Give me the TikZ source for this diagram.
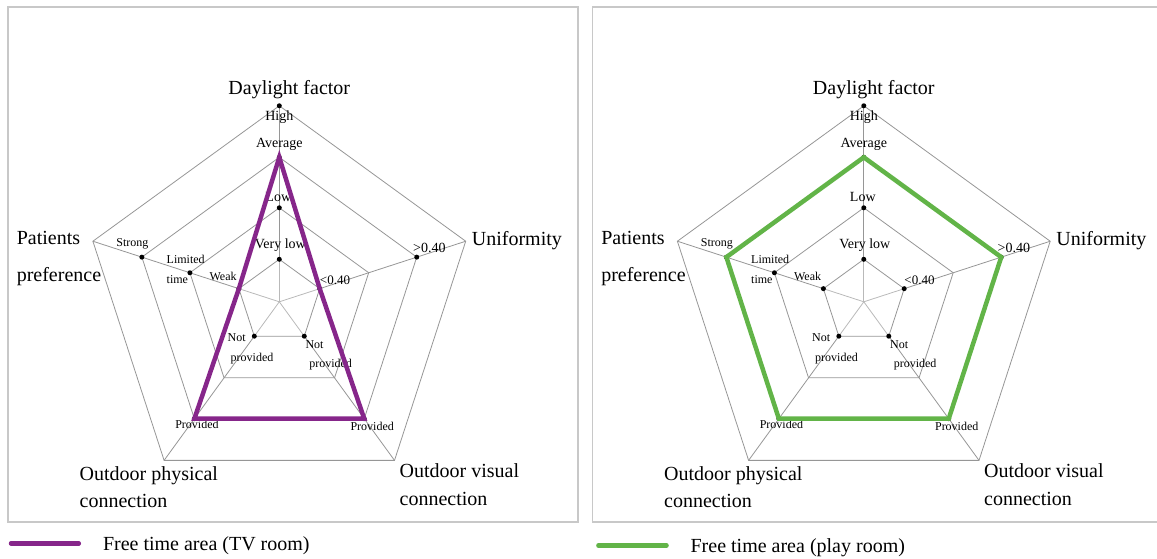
\documentclass[tikz,border=0pt]{standalone}
\usepackage{fontspec}
\setmainfont{Liberation Serif}

\definecolor{tvpurple}{RGB}{134,38,138}
\definecolor{playgreen}{RGB}{98,180,72}
\definecolor{gridgray}{RGB}{150,150,150}
\definecolor{spokegray}{RGB}{185,185,185}
\definecolor{framegray}{RGB}{200,200,200}

\tikzset{
  grid line/.style={draw=gridgray, line width=0.8pt},
  inner spoke/.style={draw=spokegray, line width=0.8pt},
  panel frame/.style={draw=framegray, line width=1.3pt},
  level dot/.style={circle, fill=black, inner sep=0pt, minimum size=5pt},
  axis title/.style={font=\fontsize{20}{24}\selectfont, inner sep=0pt},
  top level/.style={font=\fontsize{14}{16}\selectfont, inner sep=0pt},
  small level/.style={font=\fontsize{12}{14}\selectfont, inner sep=0pt},
  series/.style={line width=4.5pt, line join=miter},
  legend line/.style={line width=4.5pt, line cap=round},
}

% One radar grid: #1 = name prefix, #2 = x of the centre
\newcommand\radarpanel[2]{%
  \begin{scope}[shift={(#2,256.2)}]
    \coordinate (#1c) at (0,0);
    \foreach \a/\ang in {1/90,2/18,3/-54,4/-126,5/162}{
      \foreach \k/\r in {1/42.5,2/94,3/144.5,4/196}{
        \coordinate (#1-\a-\k) at (\ang:\r);
      }
    }
    % level pentagons
    \foreach \k in {1,...,4}{
      \draw[grid line] (#1-1-\k) -- (#1-2-\k) -- (#1-3-\k) -- (#1-4-\k) -- (#1-5-\k) -- cycle;
    }
    % spokes
    \foreach \a in {1,...,5}{
      \draw[inner spoke] (#1c) -- (#1-\a-1);
      \draw[grid line] (#1-\a-1) -- (#1-\a-4);
    }
    % level markers
    \node[level dot] (#1-dayVL) at (#1-1-1) {};
    \node[level dot] (#1-dayL)  at (#1-1-2) {};
    \node[level dot] (#1-dayA)  at (#1-1-3) {};
    \node[level dot] (#1-dayH)  at (#1-1-4) {};
    \node[level dot] (#1-uniLo) at (#1-2-1) {};
    \node[level dot] (#1-uniHi) at (#1-2-3) {};
    \node[level dot] (#1-visN)  at (#1-3-1) {};
    \node[level dot] (#1-visP)  at (#1-3-3) {};
    \node[level dot] (#1-phyN)  at (#1-4-1) {};
    \node[level dot] (#1-phyP)  at (#1-4-3) {};
    \node[level dot] (#1-patW)  at (#1-5-1) {};
    \node[level dot] (#1-patL)  at (#1-5-2) {};
    \node[level dot] (#1-patS)  at (#1-5-3) {};
    % Daylight factor axis
    \node[axis title, anchor=base] (#1-tDay) at ([shift={(10,11)}]#1-1-4) {Daylight factor};
    \node[top level, anchor=base] (#1-tHigh) at ([shift={(0,-14.3)}]#1-1-4) {High};
    \node[top level, anchor=base] (#1-tAvg) at ([shift={(0,9.3)}]#1-1-3) {Average};
    \node[top level, anchor=base] (#1-tLow) at ([shift={(-1,6.4)}]#1-1-2) {Low};
    \node[top level, anchor=base] (#1-tVLow) at ([shift={(1,10.3)}]#1-1-1) {Very low};
    % Uniformity axis
    \node[axis title, anchor=base west] (#1-tUni) at ([shift={(6,-4.2)}]#1-2-4) {Uniformity};
    \node[top level, anchor=base west] (#1-tGt) at ([shift={(-3.7,4.2)}]#1-2-3) {>0.40};
    \node[small level, anchor=base west, font=\fontsize{13}{15}\selectfont] (#1-tLt) at ([shift={(0,4.3)}]#1-2-1) {<0.40};
    % Outdoor visual connection axis
    \node[small level, anchor=base west] (#1-tVisN1) at ([shift={(1.1,-12.1)}]#1-3-1) {Not};
    \node[small level, anchor=base west] (#1-tVisN2) at ([shift={(4.8,-30.9)}]#1-3-1) {provided};
    \node[small level, anchor=base] (#1-tVisP) at ([shift={(8,-11.5)}]#1-3-3) {Provided};
    \node[axis title, anchor=base west] (#1-tVis1) at ([shift={(5,-17.6)}]#1-3-4) {Outdoor visual};
    \node[axis title, anchor=base west] (#1-tVis2) at ([shift={(5,-45.6)}]#1-3-4) {connection};
    % Outdoor physical connection axis
    \node[small level, anchor=base west] (#1-tPhyN1) at ([shift={(-26.8,-5.4)}]#1-4-1) {Not};
    \node[small level, anchor=base west] (#1-tPhyN2) at ([shift={(-23.8,-25)}]#1-4-1) {provided};
    \node[small level, anchor=base] (#1-tPhyP) at ([shift={(2.6,-10.1)}]#1-4-3) {Provided};
    \node[axis title, anchor=base west] (#1-tPhy1) at ([shift={(-84.6,-20)}]#1-4-4) {Outdoor physical};
    \node[axis title, anchor=base west] (#1-tPhy2) at ([shift={(-84.6,-46.7)}]#1-4-4) {connection};
    % Patients preference axis
    \node[small level, anchor=base] (#1-tStrong) at ([shift={(-9.4,10.5)}]#1-5-3) {Strong};
    \node[small level, anchor=base west] (#1-tLim1) at ([shift={(-23.4,8.8)}]#1-5-2) {Limited};
    \node[small level, anchor=base west] (#1-tLim2) at ([shift={(-23.4,-10.5)}]#1-5-2) {time};
    \node[small level, anchor=base east] (#1-tWeak) at ([shift={(-2.1,7.9)}]#1-5-1) {Weak};
    \node[axis title, anchor=base west] (#1-tPat1) at ([shift={(-76.3,-3.6)}]#1-5-4) {Patients};
    \node[axis title, anchor=base west] (#1-tPat2) at ([shift={(-76.3,-39.8)}]#1-5-4) {preference};
  \end{scope}%
}

\begin{document}
\begin{tikzpicture}[x=1pt,y=1pt]
  \useasboundingbox (0,0) rectangle (1157,558);
  \clip (0,0) rectangle (1157,558);

  % panel frames
  \draw[panel frame] (8,36) rectangle (578,550.9);
  \draw[panel frame] (592.5,36) rectangle (1163,550.9);

  % TV room panel
  \radarpanel{L}{279.3}
  \draw[series, tvpurple] (L-1-3) -- (L-2-1) -- (L-3-3) -- (L-4-3) -- (L-5-1) -- cycle;

  % play room panel
  \radarpanel{R}{863.8}
  \draw[series, playgreen] (R-1-3) -- (R-2-3) -- (R-3-3) -- (R-4-3) -- (R-5-3) -- cycle;

  % legends
  \coordinate (legL1) at (11,14.6);
  \coordinate (legL2) at (78.8,14.6);
  \draw[legend line, tvpurple] (legL1) -- (legL2);
  \node[axis title, anchor=base west] (legLtext) at (102.8,8) {Free time area (TV room)};

  \coordinate (legR1) at (598.4,12.5);
  \coordinate (legR2) at (666.5,12.5);
  \draw[legend line, playgreen] (legR1) -- (legR2);
  \node[axis title, anchor=base west] (legRtext) at (690.4,6) {Free time area (play room)};
\end{tikzpicture}
\end{document}
